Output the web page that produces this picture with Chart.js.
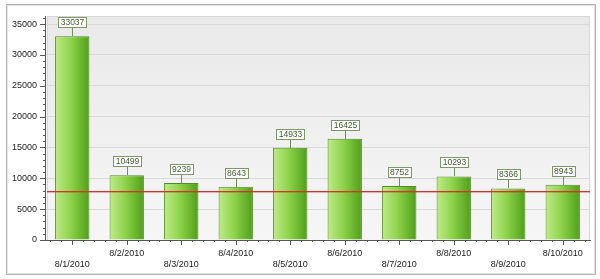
<!DOCTYPE html>
<html>
<head>
<meta charset="utf-8">
<script src="https://cdn.jsdelivr.net/npm/chart.js@4.4.0/dist/chart.umd.min.js"></script>
<style>
  html, body { margin: 0; padding: 0; background: #fff; }
  #wrap { width: 600px; height: 279px; position: relative; }
</style>
</head>
<body>
<div id="wrap"><canvas id="c" width="600" height="279"></canvas></div>
<script>
// data
const dates  = ['8/1/2010','8/2/2010','8/3/2010','8/4/2010','8/5/2010','8/6/2010','8/7/2010','8/8/2010','8/9/2010','8/10/2010'];
const counts = [33037, 10499, 9239, 8643, 14933, 16425, 8752, 10293, 8366, 8943];
const threshold = 8000;
const yTicks = [0, 5000, 10000, 15000, 20000, 25000, 30000, 35000];

const FONT = "'Liberation Sans', Arial, sans-serif";
const BAR_PCT = 0.63;

// outer frame + plot background, drawn under everything
const backdrop = {
  id: 'backdrop',
  beforeDraw(chart) {
    const { ctx, chartArea: a } = chart;
    ctx.save();
    ctx.strokeStyle = '#b4b4b4';
    ctx.lineWidth = 1;
    ctx.strokeRect(6.5, 4.5, 589, 270);
    ctx.strokeStyle = '#e4e4e4';
    ctx.strokeRect(7.5, 5.5, 587, 268);
    const g = ctx.createLinearGradient(0, a.top, 0, a.bottom);
    g.addColorStop(0, '#e9e9e9');
    g.addColorStop(1, '#f6f6f6');
    ctx.fillStyle = g;
    ctx.fillRect(a.left + 2, a.top, a.right - a.left - 2, a.bottom - a.top);
    ctx.strokeStyle = '#d6d6d6';
    ctx.strokeRect(a.left + 2.5, a.top + 0.5, a.right - a.left - 3, a.bottom - a.top);
    ctx.restore();
  }
};

// minor ticks, threshold line, value callouts
const extras = {
  id: 'extras',
  afterDatasetsDraw(chart) {
    const { ctx, chartArea: a, scales: { x, y } } = chart;
    ctx.save();
    ctx.strokeStyle = '#555';
    ctx.lineWidth = 1;
    // y ticks, minor every 1000
    for (let v = 0; v <= 36000; v += 1000) {
      const py = Math.round(y.getPixelForValue(v)) + 0.5;
      const len = v % 5000 === 0 ? 5 : 2;
      ctx.beginPath(); ctx.moveTo(a.left - len, py); ctx.lineTo(a.left, py); ctx.stroke();
    }
    // x ticks
    const step = (x.getPixelForValue(1) - x.getPixelForValue(0));
    for (let i = 0; i < dates.length; i++) {
      const cx = x.getPixelForValue(i);
      for (let k = -2; k <= 2; k++) {
        const px = Math.round(cx + k * step / 5) + 0.5;
        const len = k === 0 ? 5 : 2;
        ctx.beginPath(); ctx.moveTo(px, a.bottom); ctx.lineTo(px, a.bottom + len); ctx.stroke();
      }
    }
    // threshold
    const ty = Math.round(y.getPixelForValue(threshold));
    ctx.fillStyle = '#d9322a';
    ctx.fillRect(a.left + 2, ty, a.right - a.left - 2, 1);
    ctx.fillStyle = 'rgba(217,50,42,0.35)';
    ctx.fillRect(a.left + 2, ty + 1, a.right - a.left - 2, 1);

    // callouts
    ctx.font = '8.5px ' + FONT;
    ctx.textAlign = 'center';
    ctx.textBaseline = 'middle';
    const meta = chart.getDatasetMeta(0);
    meta.data.forEach((bar, i) => {
      const txt = String(counts[i]);
      const w = Math.ceil(ctx.measureText(txt).width) + 4;
      const h = 10;
      const cx = Math.round(bar.x);
      const top = Math.round(bar.y);
      const boxBottom = top - 9;
      ctx.strokeStyle = '#6f8f55';
      ctx.lineWidth = 1;
      ctx.beginPath(); ctx.moveTo(cx + 0.5, boxBottom); ctx.lineTo(cx + 0.5, top); ctx.stroke();
      ctx.fillStyle = '#fff';
      ctx.fillRect(cx - w / 2, boxBottom - h, w, h);
      ctx.strokeStyle = '#7d9866';
      ctx.strokeRect(Math.round(cx - w / 2) + 0.5, boxBottom - h + 0.5, w, h);
      ctx.fillStyle = '#3d5a2c';
      ctx.fillText(txt, cx + 0.5, boxBottom - h / 2 + 1);
    });
    ctx.restore();
  }
};

function barFill(context) {
  const chart = context.chart;
  const x = chart.scales && chart.scales.x;
  if (!chart.chartArea || !x || context.dataIndex === undefined) return '#8fd14f';
  const cx = x.getPixelForValue(context.dataIndex);
  const half = (x.getPixelForValue(1) - x.getPixelForValue(0)) * BAR_PCT / 2;
  if (!isFinite(cx) || !isFinite(half)) return '#8fd14f';
  const g = chart.ctx.createLinearGradient(cx - half, 0, cx + half, 0);
  g.addColorStop(0, '#bfeb88');
  g.addColorStop(0.45, '#8fd34c');
  g.addColorStop(1, '#4f9f18');
  return g;
}

new Chart(document.getElementById('c'), {
  type: 'bar',
  data: {
    labels: dates,
    datasets: [{
      data: counts,
      backgroundColor: barFill,
      borderColor: '#4f8f22',
      borderWidth: 1,
      borderSkipped: 'bottom',
      categoryPercentage: 1,
      barPercentage: BAR_PCT
    }]
  },
  options: {
    responsive: false,
    animation: false,
    devicePixelRatio: 1,
    layout: { padding: { top: 16, right: 10, left: 0, bottom: 0 } },
    plugins: { legend: { display: false }, tooltip: { enabled: false } },
    scales: {
      x: {
        grid: { display: false, drawTicks: false },
        border: { color: '#555', width: 1 },
        ticks: {
          autoSkip: false,
          maxRotation: 0,
          padding: 8,
          color: '#222',
          font: { family: FONT, size: 9 },
          callback: (v, i) => i % 2 === 0 ? ['', dates[i]] : dates[i]
        },
        afterFit: s => { s.height = 39; }
      },
      y: {
        min: 0,
        max: 36300,
        afterBuildTicks: s => { s.ticks = yTicks.map(v => ({ value: v })); },
        grid: { color: '#d9d9d9', drawTicks: false, lineWidth: 1 },
        border: { color: '#555', width: 1 },
        ticks: {
          padding: 8,
          color: '#222',
          font: { family: FONT, size: 9 },
          callback: v => String(v)
        },
        afterFit: s => { s.width = 45; }
      }
    }
  },
  plugins: [backdrop, extras]
});
</script>
</body>
</html>
